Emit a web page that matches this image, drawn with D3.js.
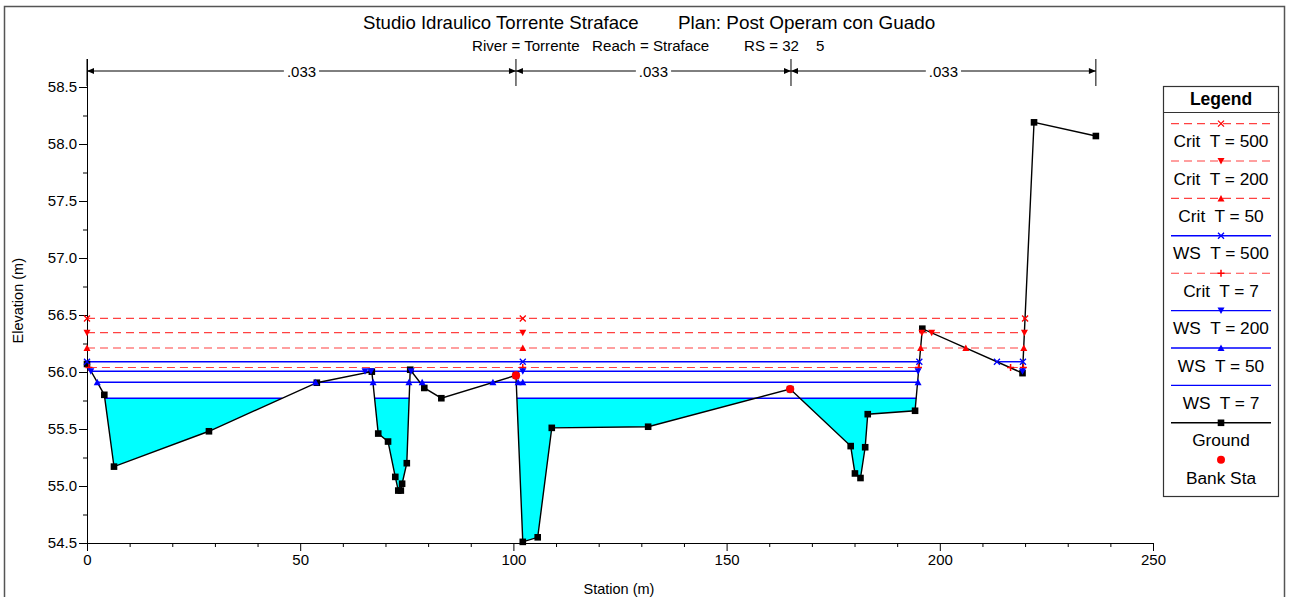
<!DOCTYPE html>
<html><head><meta charset="utf-8">
<script src="https://cdn.jsdelivr.net/npm/d3@7"></script>
<style>
body{margin:0;background:#fff;}
svg{display:block;font-family:"Liberation Sans",Arial,sans-serif;}
</style></head>
<body><svg id="c" width="1289" height="597"></svg>
<script>
// ---------------- DATA ----------------
const groundSta  = [0, 4.06, 6.33, 28.6, 53.9, 66.8, 68.3, 70.6, 72.3, 73.0, 73.6, 73.9, 75.0, 75.8, 79.1, 83.1, 100.6, 102.2, 105.7, 109.0, 131.6, 164.9, 179.1, 180.1, 181.4, 182.5, 183.1, 194.2, 195.9, 219.4, 222.1, 236.6];
const groundElev = [56.07, 55.80, 55.17, 55.48, 55.906, 56.003, 55.46, 55.39, 55.08, 54.96, 54.96, 55.02, 55.20, 56.02, 55.86, 55.77, 55.97, 54.51, 54.55, 55.51, 55.52, 55.85, 55.35, 55.11, 55.07, 55.34, 55.63, 55.66, 56.38, 55.99, 58.19, 58.07];
const bankSta  = [100.6, 164.9];
const bankElev = [55.97, 55.85];

// water surface / critical levels (m), their drawn extents and marker stations
const seriesNames   = ["Crit  T = 500", "Crit  T = 200", "Crit  T = 50", "WS  T = 500", "Crit  T = 7", "WS  T = 200", "WS  T = 50", "WS  T = 7"];
const seriesLevels  = [56.47, 56.345, 56.21, 56.09, 56.04, 56.006, 55.91, 55.77];
const seriesExtents = [
  [[0, 220.0]],
  [[0, 219.85]],
  [[0, 219.7]],
  [[0, 195.2], [213.4, 219.5]],
  [[0.45, 195.0], [216.4, 219.5]],
  [[0.9, 194.9], [219.2, 219.5]],
  [[2.4, 194.9]],
  [[4.17, 45.8], [67.44, 75.56], [100.82, 194.46]]
];
const seriesMarkers = [
  [0, 102.2, 220.0],
  [0, 102.2, 195.8, 198.1, 219.85],
  [0, 102.2, 195.5, 206.1, 219.7],
  [0, 102.2, 195.2, 213.4, 219.5],
  [0.45, 102.2, 195.0, 216.6, 219.6],
  [0.9, 65.2, 66.6, 76.0, 102.2, 194.9, 219.4],
  [2.4, 53.6, 67.1, 75.5, 78.6, 95.2, 101.1, 102.2, 194.9],
  []
];
const seriesKinds  = ["crit", "crit", "crit", "ws", "crit", "ws", "ws", "ws"];
const seriesSymbol = ["x", "down", "up", "x", "plus", "down", "up", "none"];

const manningBreaks = [0, 100.6, 165.1, 236.6];
const manningN      = [".033", ".033", ".033"];

const xTicks = [0, 50, 100, 150, 200, 250];
const yTicks = [54.5, 55.0, 55.5, 56.0, 56.5, 57.0, 57.5, 58.0, 58.5];

const titleMain = "Studio Idraulico Torrente Straface";
const titlePlan = "Plan: Post Operam con Guado";
const subRiver  = "River = Torrente   Reach = Straface";
const subRS     = "RS = 32";
const subRS2    = "5";

// ---------------- DRAW ----------------
const svg = d3.select("#c");
const RED = "#ff2020", BLUE = "#0000ff";

svg.append("rect").attr("x", 4.5).attr("y", 6.5).attr("width", 1280).attr("height", 600)
  .attr("fill", "none").attr("stroke", "#555").attr("stroke-width", 1.5);

const x = d3.scaleLinear().domain([0, 250]).range([87, 1153]);
const y = d3.scaleLinear().domain([54.5, 58.75]).range([543, 58.5]);

// titles
svg.append("text").attr("x", 363).attr("y", 29).attr("font-size", 18.6).text(titleMain);
svg.append("text").attr("x", 678).attr("y", 29).attr("font-size", 18.9).text(titlePlan);
svg.append("text").attr("x", 472).attr("y", 51).attr("font-size", 15.1).style("white-space", "pre").text(subRiver);
svg.append("text").attr("x", 744).attr("y", 51).attr("font-size", 15.1).text(subRS);
svg.append("text").attr("x", 816).attr("y", 51).attr("font-size", 15.1).text(subRS2);

// axes
const yAxis = d3.axisLeft(y).tickValues(yTicks).tickSize(8).tickSizeOuter(0).tickPadding(2).tickFormat(d3.format(".1f"));
svg.append("g").attr("transform", `translate(${x(0)},0)`).call(yAxis);
const yMinor = d3.range(54.75, 58.5, 0.5);
svg.append("g").attr("transform", `translate(${x(0)},0)`)
  .call(d3.axisLeft(y).tickValues(yMinor).tickSize(4).tickFormat(""))
  .select(".domain").remove();
const xAxis = d3.axisBottom(x).tickValues(xTicks).tickSize(8).tickSizeOuter(0).tickPadding(3);
svg.append("g").attr("transform", `translate(0,${y(54.5)})`).call(xAxis);
const xMinor = d3.range(10, 250, 10).filter(v => v % 50 !== 0);
svg.append("g").attr("transform", `translate(0,${y(54.5)})`)
  .call(d3.axisBottom(x).tickValues(xMinor).tickSize(4).tickFormat(""))
  .select(".domain").remove();
svg.selectAll(".tick text").attr("font-size", 15).attr("font-family", "Liberation Sans, Arial, sans-serif").attr("fill", "#000");
svg.selectAll(".domain, .tick line").attr("stroke", "#000");

svg.append("text").attr("transform", `translate(23,${(y(54.5)+y(58.75))/2}) rotate(-90)`)
  .attr("text-anchor", "middle").attr("font-size", 14.5).text("Elevation (m)");
svg.append("text").attr("x", 619).attr("y", 594).attr("text-anchor", "middle").attr("font-size", 14.5).text("Station (m)");

// Manning n arrows
const yN = 71;
const nG = svg.append("g");
manningBreaks.forEach(s => {
  nG.append("line").attr("x1", x(s)).attr("x2", x(s)).attr("y1", 59).attr("y2", 86).attr("stroke", "#000");
});
manningN.forEach((n, i) => {
  const a = x(manningBreaks[i]), b = x(manningBreaks[i + 1]), m = (a + b) / 2;
  nG.append("line").attr("x1", a).attr("x2", b).attr("y1", yN).attr("y2", yN).attr("stroke", "#000");
  nG.append("path").attr("d", `M${a + 7},${yN - 3}L${a},${yN}L${a + 7},${yN + 3}Z`).attr("fill", "#000");
  nG.append("path").attr("d", `M${b - 7},${yN - 3}L${b},${yN}L${b - 7},${yN + 3}Z`).attr("fill", "#000");
  const t = nG.append("text").attr("x", m).attr("y", yN + 5.5).attr("text-anchor", "middle").attr("font-size", 15).text(n);
  const bb = t.node().getBBox();
  nG.insert("rect", "text:last-of-type").attr("x", bb.x - 3).attr("y", yN - 2).attr("width", bb.width + 6).attr("height", 4).attr("fill", "#fff");
});

// ground helpers
const ground = groundSta.map((s, i) => ({ s, e: groundElev[i] }));
function groundAt(s) {
  for (let i = 0; i < ground.length - 1; i++) {
    const p = ground[i], q = ground[i + 1];
    if (s >= p.s && s <= q.s) return p.e + (q.e - p.e) * (s - p.s) / (q.s - p.s || 1);
  }
  return ground[ground.length - 1].e;
}

// cyan fill below WS T = 7
const fillIdx = seriesNames.length - 1;
const lev = seriesLevels[fillIdx];
seriesExtents[fillIdx].forEach(([a, b]) => {
  const pts = [{ s: a, e: Math.min(groundAt(a), lev) }];
  for (let i = 0; i < ground.length - 1; i++) {
    const p = ground[i], q = ground[i + 1];
    if (p.s > a && p.s < b) pts.push({ s: p.s, e: Math.min(p.e, lev) });
    if ((p.e - lev) * (q.e - lev) < 0) {
      const sc = p.s + (lev - p.e) / (q.e - p.e) * (q.s - p.s);
      if (sc > a && sc < b) pts.push({ s: sc, e: lev });
    }
  }
  pts.push({ s: b, e: Math.min(groundAt(b), lev) });
  pts.sort((u, v) => u.s - v.s);
  const area = d3.area().x(d => x(d.s)).y0(d => y(d.e)).y1(y(lev));
  svg.append("path").attr("d", area(pts)).attr("fill", "#00ffff").attr("stroke", "none");
});

// level lines
seriesNames.forEach((nm, i) => {
  const crit = seriesKinds[i] === "crit";
  seriesExtents[i].forEach(([a, b]) => {
    svg.append("line").attr("x1", x(a)).attr("x2", x(b)).attr("y1", y(seriesLevels[i])).attr("y2", y(seriesLevels[i]))
      .attr("stroke", crit ? RED : BLUE).attr("stroke-width", crit ? 1.1 : 1.4)
      .attr("stroke-dasharray", crit ? "8,5" : null).attr("opacity", crit ? 0.85 : 1);
  });
});

// ground line + points
svg.append("path").attr("d", d3.line().x(d => x(d.s)).y(d => y(d.e))(ground))
  .attr("fill", "none").attr("stroke", "#000").attr("stroke-width", 1.4);
svg.selectAll(".gpt").data(ground).enter().append("rect")
  .attr("x", d => x(d.s) - 3.3).attr("y", d => y(d.e) - 3.3).attr("width", 6.6).attr("height", 6.6).attr("fill", "#000");

// markers
function marker(g, sym, cx, cy, col) {
  if (sym === "x") {
    g.append("path").attr("d", `M${cx - 3},${cy - 3}L${cx + 3},${cy + 3}M${cx - 3},${cy + 3}L${cx + 3},${cy - 3}`)
      .attr("stroke", col).attr("stroke-width", 1.3).attr("fill", "none");
  } else if (sym === "plus") {
    g.append("path").attr("d", `M${cx - 3.5},${cy}L${cx + 3.5},${cy}M${cx},${cy - 3.5}L${cx},${cy + 3.5}`)
      .attr("stroke", col).attr("stroke-width", 1.5).attr("fill", "none");
  } else if (sym === "down") {
    g.append("path").attr("d", `M${cx - 3.5},${cy - 3}L${cx + 3.5},${cy - 3}L${cx},${cy + 3.5}Z`).attr("fill", col);
  } else if (sym === "up") {
    g.append("path").attr("d", `M${cx - 3.5},${cy + 3}L${cx + 3.5},${cy + 3}L${cx},${cy - 3.5}Z`).attr("fill", col);
  }
}
const mg = svg.append("g");
seriesNames.forEach((nm, i) => {
  const col = seriesKinds[i] === "crit" ? "#ff0000" : BLUE;
  seriesMarkers[i].forEach(s => marker(mg, seriesSymbol[i], x(s), y(seriesLevels[i]), col));
});

// bank stations
bankSta.forEach((s, i) => {
  svg.append("circle").attr("cx", x(s)).attr("cy", y(bankElev[i])).attr("r", 4.2).attr("fill", "#ff0000");
});

// legend
const L = svg.append("g");
L.append("rect").attr("x", 1163.5).attr("y", 86.5).attr("width", 115).attr("height", 410)
  .attr("fill", "#fff").attr("stroke", "#333").attr("stroke-width", 1.2);
L.append("line").attr("x1", 1163.5).attr("x2", 1280).attr("y1", 112.5).attr("y2", 112.5).attr("stroke", "#333").attr("stroke-width", 1.2);
L.append("text").attr("x", 1221).attr("y", 104.5).attr("text-anchor", "middle").attr("font-size", 17.5).attr("font-weight", "bold").text("Legend");
const legNames = seriesNames.concat(["Ground", "Bank Sta"]);
const lx1 = 1171, lx2 = 1271, lc = 1221, step = 37.4;
legNames.forEach((nm, i) => {
  const ly = 123.6 + i * step;
  if (i < seriesNames.length) {
    const crit = seriesKinds[i] === "crit";
    L.append("line").attr("x1", lx1).attr("x2", lx2).attr("y1", ly).attr("y2", ly)
      .attr("stroke", crit ? RED : BLUE).attr("stroke-width", crit ? 1.1 : 1.4)
      .attr("stroke-dasharray", crit ? "8,5" : null).attr("opacity", crit ? 0.85 : 1);
    marker(L, seriesSymbol[i], lc, ly, crit ? "#ff0000" : BLUE);
  } else if (nm === "Ground") {
    L.append("line").attr("x1", lx1).attr("x2", lx2).attr("y1", ly).attr("y2", ly).attr("stroke", "#000").attr("stroke-width", 1.4);
    L.append("rect").attr("x", lc - 3.3).attr("y", ly - 3.3).attr("width", 6.6).attr("height", 6.6).attr("fill", "#000");
  } else {
    L.append("circle").attr("cx", lc).attr("cy", ly - 0.5).attr("r", 4).attr("fill", "#ff0000");
  }
  L.append("text").attr("x", lc).attr("y", ly + 23.5).attr("text-anchor", "middle").attr("font-size", 17.3)
    .style("white-space", "pre").text(nm);
});
</script></body></html>
